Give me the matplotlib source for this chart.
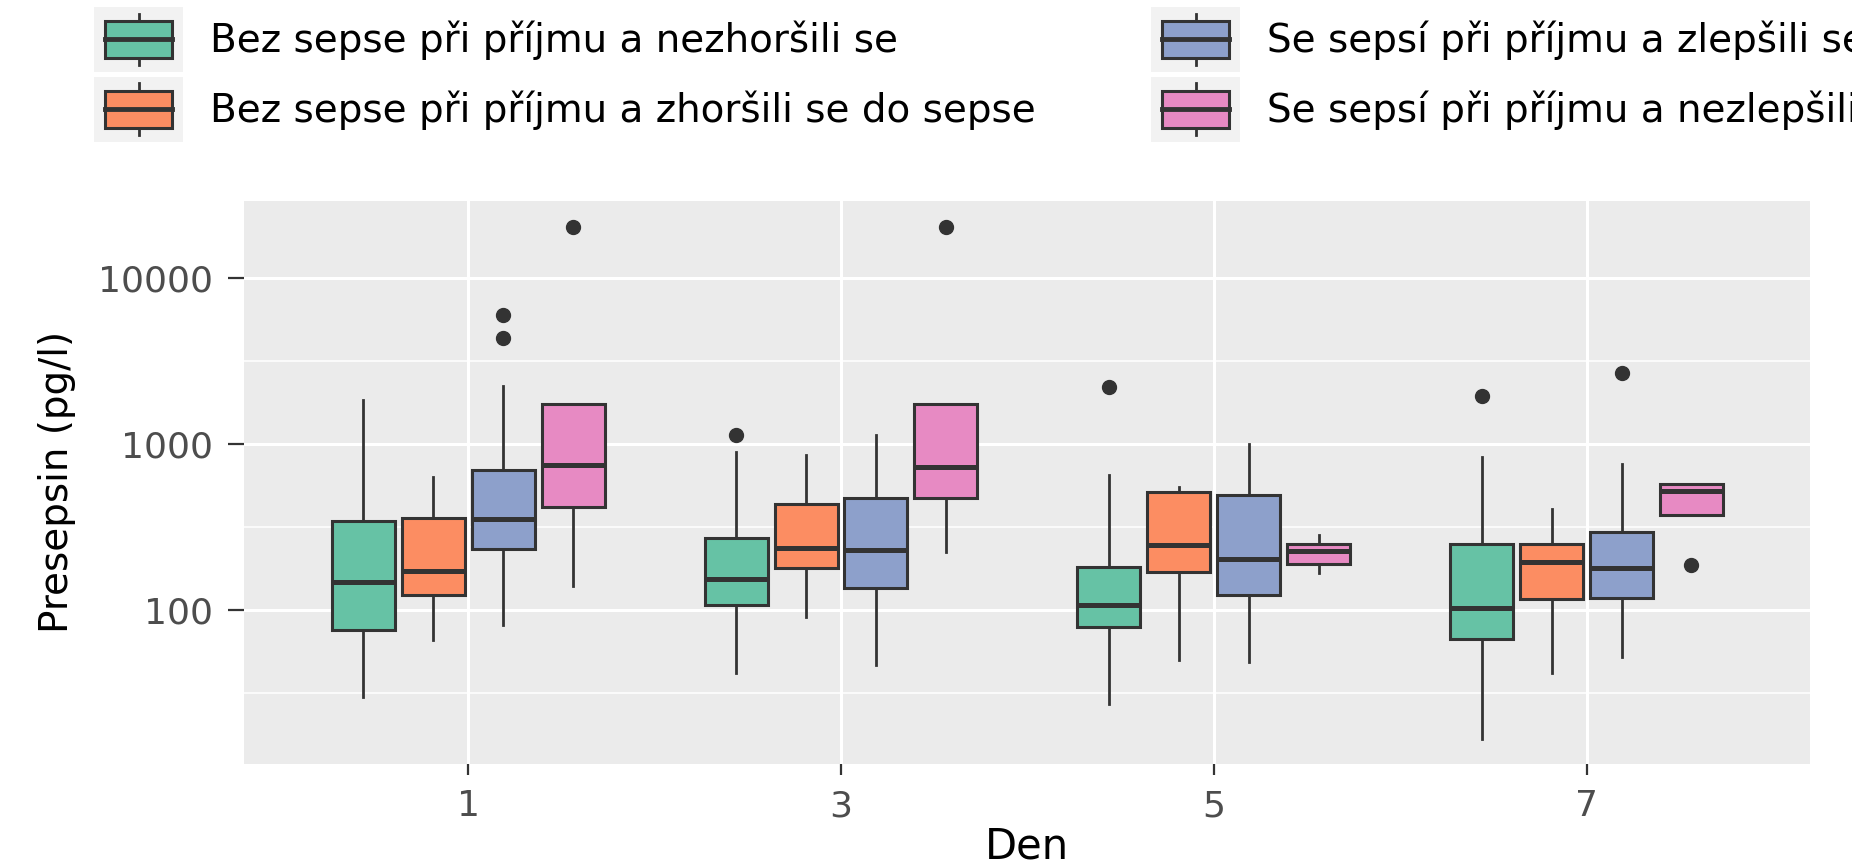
import matplotlib
matplotlib.use("Agg")
import matplotlib.pyplot as plt
from matplotlib.patches import Patch, Rectangle
from matplotlib.lines import Line2D
from matplotlib.legend_handler import HandlerBase
from matplotlib.ticker import FixedLocator, NullFormatter

plt.rcParams['font.family'] = ['DejaVu Sans']

days = ["1", "3", "5", "7"]
groups = [
  "Bez sepse při příjmu a nezhoršili se",
  "Bez sepse při příjmu a zhoršili se do sepse",
  "Se sepsí při příjmu a zlepšili se",
  "Se sepsí při příjmu a nezlepšili se",
]
colors = ["#66C2A5", "#FC8D62", "#8DA0CB", "#E78AC3"]

# one row per group, one value per day (1, 3, 5, 7), pg/l
whislo = [
  [30, 42, 27, 16.8],
  [66, 91, 50, 41.5],
  [81, 46.5, 48.5, 52],
  [140, 223, 168, 374],
]
q1 = [
  [76, 108, 79, 67],
  [124, 180, 170, 116],
  [233, 135, 124, 118],
  [420, 472, 190, 374],
]
med = [
  [147, 154, 107, 103],
  [173, 237, 246, 195],
  [352, 229, 202, 180],
  [751, 728, 227, 524],
]
q3 = [
  [344, 272, 183, 250],
  [357, 436, 512, 250],
  [702, 472, 494, 294],
  [1742, 1742, 250, 577],
]
whishi = [
  [1840, 898, 655, 834],
  [631, 865, 556, 405],
  [2230, 1135, 1009, 764],
  [1742, 1742, 285, 577],
]
fliers = [
  [[], [1135], [2200], [1954]],
  [[], [], [], []],
  [[4365, 5990], [], [], [2700]],
  [[20300], [20300], [], [187]],
]

edge = "#333333"


class BoxKey(HandlerBase):
  # ggplot-like boxplot key on a light grey square
  def legend_artist(self, legend, orig_handle, fontsize, handlebox):
    x0, y0 = -handlebox.xdescent, -handlebox.ydescent
    w, h = handlebox.width, handlebox.height
    bg = Rectangle((x0, y0), w, h, facecolor="#F2F2F2", edgecolor="none")
    whisk = Line2D([x0 + w / 2] * 2, [y0 + 0.1 * h, y0 + 0.9 * h], color=edge, lw=2)
    box = Rectangle((x0 + 0.125 * w, y0 + 0.22 * h), 0.75 * w, 0.56 * h,
                    facecolor=orig_handle.get_facecolor(), edgecolor=edge, lw=2.2)
    mid = Line2D([x0 + 0.125 * w, x0 + 0.875 * w], [y0 + 0.5 * h] * 2, color=edge, lw=3.5)
    for a in (bg, whisk, box, mid):
      handlebox.add_artist(a)
    return box


fig = plt.figure(figsize=(18.52, 8.68), dpi=100)
ax = fig.add_axes([0.1320, 0.1198, 0.8455, 0.6490])
ax.set_facecolor("#EBEBEB")

step = 0.1875
for g in range(4):
  stats = []
  for d in range(4):
    stats.append(dict(whislo=whislo[g][d], q1=q1[g][d], med=med[g][d], q3=q3[g][d],
                      whishi=whishi[g][d], fliers=fliers[g][d]))
  pos = [d + 1 + (g - 1.5) * step for d in range(4)]
  ax.bxp(stats, positions=pos, widths=0.169, patch_artist=True, showcaps=False,
         boxprops=dict(facecolor=colors[g], edgecolor=edge, linewidth=2.2),
         medianprops=dict(color=edge, linewidth=3.6, solid_capstyle='butt'),
         whiskerprops=dict(color=edge, linewidth=2),
         flierprops=dict(marker='o', markerfacecolor=edge, markeredgecolor=edge, markersize=10),
         manage_ticks=False, zorder=3)

ax.set_yscale('log')
ax.set_ylim(11.8, 29400)
ax.set_xlim(0.4, 4.6)
ax.yaxis.set_major_locator(FixedLocator([100, 1000, 10000]))
ax.set_yticklabels(["100", "1000", "10000"])
ax.yaxis.set_minor_locator(FixedLocator([10 ** 1.5, 10 ** 2.5, 10 ** 3.5]))
ax.yaxis.set_minor_formatter(NullFormatter())
ax.set_xticks([1, 2, 3, 4])
ax.set_xticklabels(days)

ax.grid(which='major', color='white', linewidth=2.2)
ax.grid(which='minor', axis='y', color='white', linewidth=1.1)
ax.set_axisbelow(True)
for s in ax.spines.values():
  s.set_visible(False)

ax.tick_params(axis='y', which='major', length=11.5, width=1.6, color=edge, pad=11,
               labelsize=26, labelcolor="#4D4D4D")
ax.tick_params(axis='x', which='major', length=8, width=1.6, color=edge, pad=10,
               labelsize=26, labelcolor="#4D4D4D")
ax.tick_params(axis='y', which='minor', length=0)

ax.set_ylabel("Presepsin (pg/l)", fontsize=28)
ax.set_xlabel("Den", fontsize=30, va='top')
ax.yaxis.set_label_coords(-0.1076, 0.5)
ax.xaxis.set_label_coords(0.5, -0.110)

handles = [Patch(facecolor=c) for c in colors]
for cols, x in (((0, 1), 0.0508), ((2, 3), 0.6215)):
  fig.legend([handles[i] for i in cols], [groups[i] for i in cols],
             handler_map={Patch: BoxKey()}, loc='upper left', bbox_to_anchor=(x, 0.9919),
             frameon=False, fontsize=28, borderpad=0, borderaxespad=0,
             handlelength=2.29, handleheight=2.19, handletextpad=0.7, labelspacing=0.13)

fig.savefig("out.png", dpi=100)
